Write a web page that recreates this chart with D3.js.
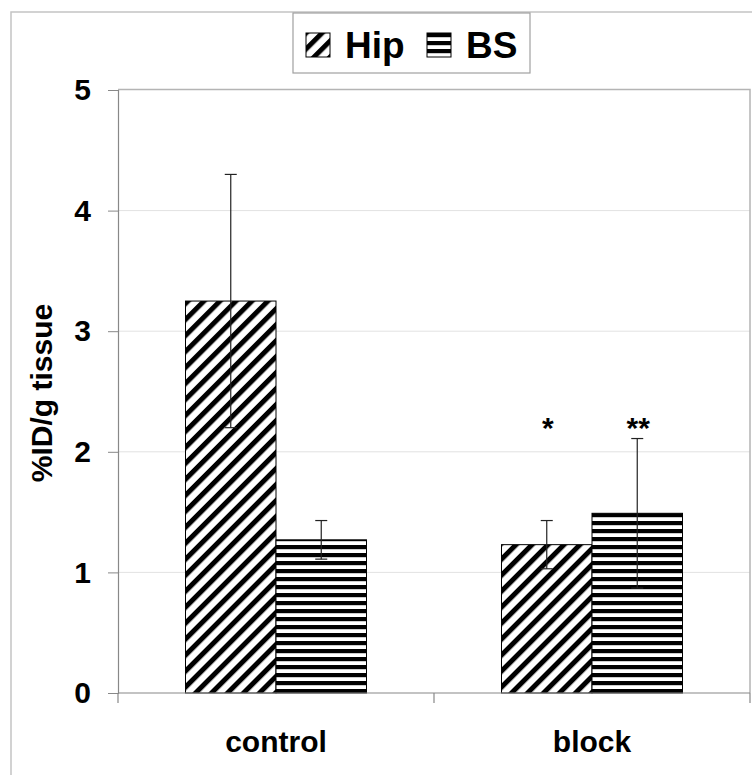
<!DOCTYPE html>
<html>
<head>
<meta charset="utf-8">
<script src="https://cdnjs.cloudflare.com/ajax/libs/d3/7.8.5/d3.min.js"></script>
<style>
  html, body { margin: 0; padding: 0; background: #fff; }
  svg { display: block; }
  text { font-family: "Liberation Sans", Arial, Helvetica, sans-serif; font-weight: bold; fill: #000; }
</style>
</head>
<body>
<svg id="chart" width="752" height="775"></svg>
<script>
// ---- data ----
const categories = ["control", "block"];
const seriesNames = ["Hip", "BS"];
const hipValues = [3.25, 1.23];
const hipErrors = [1.05, 0.20];
const bsValues = [1.27, 1.49];
const bsErrors = [0.16, 0.62];
const hipMarks = ["", "*"];
const bsMarks = ["", "**"];
const yTicks = [0, 1, 2, 3, 4, 5];

(function () {
const svg = d3.select("#chart");

// ---- patterns ----
const defs = svg.append("defs");
const diag = defs.append("pattern")
  .attr("id", "pat-Hip").attr("patternUnits", "userSpaceOnUse")
  .attr("width", 11.3).attr("height", 20)
  .attr("patternTransform", "rotate(45)");
diag.append("rect").attr("width", 11.3).attr("height", 20).attr("fill", "#fff");
diag.append("rect").attr("width", 5).attr("height", 20).attr("fill", "#000");

const horiz = defs.append("pattern")
  .attr("id", "pat-BS").attr("patternUnits", "userSpaceOnUse")
  .attr("width", 20).attr("height", 8);
horiz.append("rect").attr("width", 20).attr("height", 8).attr("fill", "#fff");
horiz.append("rect").attr("y", 1).attr("width", 20).attr("height", 4.2).attr("fill", "#000");

// ---- outer frame ----
svg.append("rect").attr("x", 11).attr("y", 12).attr("width", 800).attr("height", 800)
  .attr("fill", "#fff").attr("stroke", "#c4c4c4").attr("stroke-width", 1.5);

// ---- scales ----
const pLeft = 118, pRight = 750, pTop = 90, pBottom = 693;
const x = d3.scaleBand().domain(categories).range([pLeft, pRight]).paddingInner(0).paddingOuter(0);
const x1 = d3.scaleBand().domain(seriesNames).range([0, x.bandwidth()]).paddingInner(0).paddingOuter(0.746);
const y = d3.scaleLinear().domain([0, 5]).range([pBottom, pTop]);

// ---- gridlines ----
svg.append("g").selectAll("line").data(yTicks.filter(d => d > 0 && d < 5)).join("line")
  .attr("x1", pLeft).attr("x2", pRight)
  .attr("y1", d => y(d)).attr("y2", d => y(d))
  .attr("stroke", "#e2e2e2").attr("stroke-width", 1);

// plot area border (top + right)
svg.append("path")
  .attr("d", `M${pLeft},${y(5) - 0.5}H${pRight}V${pBottom}`)
  .attr("fill", "none").attr("stroke", "#b4b4b4").attr("stroke-width", 1.5);

// ---- bars ----
const data = categories.map((c, i) => ({
  cat: c,
  items: [
    { s: "Hip", v: hipValues[i], e: hipErrors[i], m: hipMarks[i] },
    { s: "BS", v: bsValues[i], e: bsErrors[i], m: bsMarks[i] }
  ]
}));

const groups = svg.append("g").selectAll("g").data(data).join("g")
  .attr("transform", d => `translate(${x(d.cat)},0)`);

groups.selectAll("rect").data(d => d.items).join("rect")
  .attr("x", d => x1(d.s))
  .attr("y", d => y(d.v))
  .attr("width", x1.bandwidth())
  .attr("height", d => y(0) - y(d.v))
  .attr("fill", d => `url(#pat-${d.s})`)
  .attr("stroke", "#000").attr("stroke-width", 1);

// error bars
const eb = groups.selectAll("g.err").data(d => d.items).join("g").attr("class", "err")
  .attr("transform", d => `translate(${x1(d.s) + x1.bandwidth() / 2},0)`);
eb.append("line").attr("x1", 0).attr("x2", 0)
  .attr("y1", d => y(d.v + d.e)).attr("y2", d => y(d.v - d.e))
  .attr("stroke", "#222").attr("stroke-width", 1.2);
eb.append("line").attr("x1", -6).attr("x2", 6)
  .attr("y1", d => y(d.v + d.e)).attr("y2", d => y(d.v + d.e))
  .attr("stroke", "#222").attr("stroke-width", 1.2);
eb.append("line").attr("x1", -6).attr("x2", 6)
  .attr("y1", d => y(d.v - d.e)).attr("y2", d => y(d.v - d.e))
  .attr("stroke", "#222").attr("stroke-width", 1.2);

// significance marks
groups.selectAll("text.mark").data(d => d.items).join("text").attr("class", "mark")
  .attr("x", d => x1(d.s) + x1.bandwidth() / 2 + 1)
  .attr("y", 438)
  .attr("text-anchor", "middle")
  .style("font-size", "30px")
  .text(d => d.m);

// ---- y axis ----
const yAxis = svg.append("g").attr("transform", `translate(${pLeft},0)`)
  .call(d3.axisLeft(y).tickValues(yTicks).tickFormat(d3.format("d")).tickSize(10).tickPadding(17));
yAxis.select(".domain").attr("stroke", "#888").attr("stroke-width", 1.2);
yAxis.selectAll(".tick line").attr("stroke", "#888");
yAxis.selectAll(".tick text").style("font-size", "30px").attr("fill", "#000");
yAxis.attr("font-family", null).attr("font-size", null);

// ---- x axis ----
const xAxis = svg.append("g").attr("transform", `translate(0,${pBottom})`)
  .call(d3.axisBottom(x).tickSize(0).tickPadding(38));
xAxis.select(".domain").remove();
xAxis.selectAll(".tick text").style("font-size", "30px").attr("fill", "#000");
xAxis.attr("font-family", null).attr("font-size", null);
svg.append("line").attr("x1", pLeft).attr("x2", pRight).attr("y1", pBottom).attr("y2", pBottom)
  .attr("stroke", "#888").attr("stroke-width", 1.2);
const bounds = categories.map(c => x(c)).concat([x(categories[categories.length - 1]) + x.bandwidth()]);
svg.append("g").selectAll("line").data(bounds).join("line")
  .attr("x1", d => d).attr("x2", d => d)
  .attr("y1", pBottom).attr("y2", pBottom + 10)
  .attr("stroke", "#888").attr("stroke-width", 1.2);

// ---- y label ----
svg.append("text")
  .attr("transform", "translate(52,393) rotate(-90)")
  .attr("text-anchor", "middle")
  .style("font-size", "30px")
  .text("%ID/g tissue");

// ---- legend ----
const lg = svg.append("g");
lg.append("rect").attr("x", 293).attr("y", 13).attr("width", 237).attr("height", 60)
  .attr("fill", "#fff").attr("stroke", "#a0a0a0").attr("stroke-width", 1.2);
const legendX = [306, 427];
seriesNames.forEach((s, i) => {
  lg.append("rect").attr("x", legendX[i]).attr("y", 33).attr("width", 24).attr("height", 24)
    .attr("fill", `url(#pat-${s})`).attr("stroke", "#000").attr("stroke-width", 1);
  lg.append("text").attr("x", legendX[i] + 39).attr("y", 58)
    .style("font-size", "37px").text(s);
});
})();
</script>
</body>
</html>
